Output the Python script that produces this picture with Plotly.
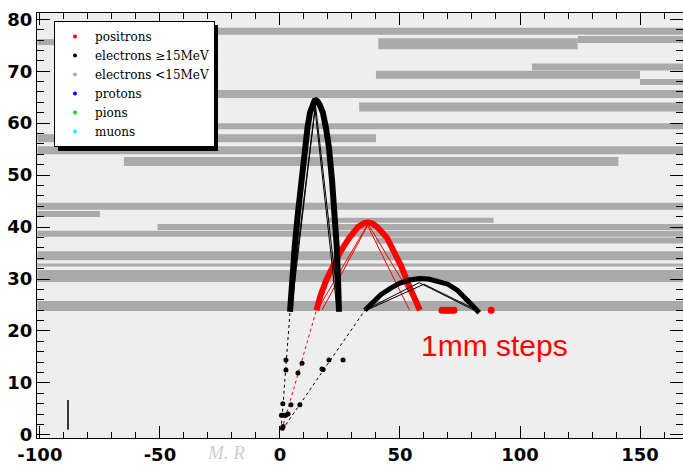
import plotly.graph_objects as go

# ---------------- data ----------------
# grey tracks of electrons < 15 MeV: level (cm), start x, end x
band_y = [77.7, 75.6, 75.3, 76.1, 70.8, 69.3, 67.9, 65.6, 63.1, 59.4, 57.1, 54.8,
          52.6, 44.0, 42.5, 41.3, 40.0, 38.7, 37.4, 34.5, 32.7, 30.6, 24.8]
band_x0 = [-28, -101, 41, 124, 105, 40, 150, -28, 33, -28, -101, -101,
           -65, -101, -101, 20, -51, -101, 40, -101, -101, -101, -101]
band_x1 = [170, -92, 124, 170, 170, 150, 170, 170, 170, 170, 40, 170,
           141, 170, -75, 89, 170, 170, 170, 170, 170, 170, 170]
band_thick = [7, 6, 11, 7, 7, 8, 6, 8, 9, 6, 8, 8,
              9, 7, 6, 5, 6, 6, 6, 9, 3, 12, 10]

# electron >= 15 MeV, tall arc
e1_x = [4.2, 5.0, 6.2, 7.5, 8.9, 10.4, 11.5, 12.5, 13.5, 14.4, 15.0, 15.7, 16.6, 17.9, 19.2,
        20.4, 21.7, 22.9, 23.7, 24.2, 24.6]
e1_y = [23.7, 30.0, 36.5, 42.7, 49.0, 55.4, 59.2, 62.0, 63.6, 64.3, 64.4, 64.2, 63.5, 62.0,
        59.0, 55.4, 49.0, 42.7, 36.0, 30.0, 23.7]
e1c_x = [4.2, 14.8, 24.6, None, 4.8, 14.6, 23.8]
e1c_y = [23.7, 63.5, 23.7, None, 24.0, 62.8, 24.0]

# positron arc
p_x = [15.2, 17.0, 19.5, 22.5, 25.5, 29.0, 32.5, 35.0, 36.7, 38.5, 40.5, 44.5, 47.5, 50.5,
       53.5, 56.0, 58.3]
p_y = [24.0, 27.0, 30.0, 33.0, 35.5, 38.0, 40.0, 40.7, 40.9, 40.7, 40.0, 38.0, 35.5, 32.5,
       29.0, 26.0, 24.0]
pc_x = [15.5, 36.7, 58.3, None, 17.5, 36.5, 54.0]
pc_y = [24.0, 40.6, 24.0, None, 24.0, 40.3, 24.0]
p_blob_x = [67.5, 68.5, 69.5, 70.5, 71.5, 72.5, 88.0]
p_blob_y = [24.0, 24.0, 24.0, 24.0, 24.0, 24.0, 24.0]

# electron >= 15 MeV, low arc
e2_x = [35.4, 38.0, 42.0, 46.0, 50.0, 54.0, 58.0, 62.0, 66.0, 70.0, 74.0, 77.0,
        80.0, 83.0]
e2_y = [24.0, 25.3, 27.0, 28.2, 29.2, 29.8, 30.1, 30.0, 29.6, 29.0, 27.8, 26.5,
        25.0, 23.5]
e2c_x = [35.4, 58.0, 83.0, None, 36.0, 60.0, 82.0]
e2c_y = [24.0, 29.3, 23.5, None, 24.0, 29.0, 24.0]

# dotted paths from the vertex to the arcs
path1_x = [0.5, 4.2]
path1_y = [1.0, 23.7]
path2_x = [0.8, 15.2]
path2_y = [1.0, 24.0]
path3_x = [1.0, 35.4]
path3_y = [1.0, 24.0]

# step points near the vertex
dot_x = [1.0, 1.3, 0.6, 1.6, 2.4, 3.4, 1.2, 4.6, 8.3, 2.5, 2.5, 7.5, 9.2, 17.5, 18.0, 20.4, 26.3]
dot_y = [1.3, 1.6, 3.8, 3.8, 3.8, 4.0, 6.0, 5.8, 5.8, 12.5, 14.4, 11.9, 13.8, 12.7, 12.6, 14.4, 14.4]

# small vertical marker line
mark_x = [-88.3, -88.3]
mark_y = [1.0, 6.7]

legend_names = ["positrons", "electrons \u226515MeV", "electrons <15MeV", "protons", "pions", "muons"]
legend_colors = ["#ff0000", "#000000", "#aaaaaa", "#0000ff", "#00dd00", "#00ffff"]

x_ticks = [-100, -50, 0, 50, 100, 150]
y_ticks = [0, 10, 20, 30, 40, 50, 60, 70, 80]

# ---------------- figure ----------------
GREY = "#aaaaaa"
fig = go.Figure()

for y, a, b, w in zip(band_y, band_x0, band_x1, band_thick):
    fig.add_trace(go.Scatter(x=[a, b], y=[y, y], mode="lines",
                             line=dict(color=GREY, width=w),
                             showlegend=False, hoverinfo="skip"))

for px_, py_, col in [(path1_x, path1_y, "black"), (path2_x, path2_y, "red"), (path3_x, path3_y, "black")]:
    fig.add_trace(go.Scatter(x=px_, y=py_, mode="lines",
                             line=dict(color=col, width=1, dash="dot"),
                             showlegend=False, hoverinfo="skip"))

fig.add_trace(go.Scatter(x=dot_x, y=dot_y, mode="markers",
                         marker=dict(color="black", size=5),
                         showlegend=False, hoverinfo="skip"))

fig.add_trace(go.Scatter(x=p_x, y=p_y, mode="lines", line=dict(color="red", width=6),
                         showlegend=False, hoverinfo="skip"))
fig.add_trace(go.Scatter(x=pc_x, y=pc_y, mode="lines", line=dict(color="red", width=1),
                         showlegend=False, hoverinfo="skip"))
fig.add_trace(go.Scatter(x=p_blob_x, y=p_blob_y, mode="markers",
                         marker=dict(color="red", size=7), showlegend=False, hoverinfo="skip"))

fig.add_trace(go.Scatter(x=e1_x, y=e1_y, mode="lines", line=dict(color="black", width=6),
                         showlegend=False, hoverinfo="skip"))
fig.add_trace(go.Scatter(x=e1c_x, y=e1c_y, mode="lines", line=dict(color="black", width=1),
                         showlegend=False, hoverinfo="skip"))
fig.add_trace(go.Scatter(x=e2_x, y=e2_y, mode="lines", line=dict(color="black", width=5),
                         showlegend=False, hoverinfo="skip"))
fig.add_trace(go.Scatter(x=e2c_x, y=e2c_y, mode="lines", line=dict(color="black", width=1),
                         showlegend=False, hoverinfo="skip"))

fig.add_trace(go.Scatter(x=mark_x, y=mark_y, mode="lines", line=dict(color="#333333", width=2),
                         showlegend=False, hoverinfo="skip"))

for name, col in zip(legend_names, legend_colors):
    fig.add_trace(go.Scatter(x=[None], y=[None], mode="markers", name=name,
                             marker=dict(color=col, size=4)))

# legend position / shadow (decoration, pixels of the frame)
LEG_LEFT, LEG_TOP = 54, 21
fig.add_shape(type="rect", xref="paper", yref="paper",
              x0=(LEG_LEFT + 4 - 37) / 646, x1=(LEG_LEFT + 164 - 37) / 646,
              y0=(438 - (LEG_TOP + 130)) / 425, y1=(438 - (LEG_TOP + 4)) / 425,
              fillcolor="black", line=dict(width=0), layer="above")

fig.add_annotation(x=89.5, y=17.3, text="1mm steps", showarrow=False,
                   font=dict(family="Liberation Sans", size=30, color="red"))

fig.add_annotation(xref="paper", yref="paper", x=(205 - 37) / 646, y=(438 - 465) / 425,
                   text="<i>M. R</i>", showarrow=False, yanchor="bottom",
                   font=dict(family="Liberation Serif", size=19, color="#c8cfd6"))

axis_font = dict(family="DejaVu Sans", size=18, color="black", weight="bold")
fig.update_xaxes(range=[-101.2, 167.9], tickvals=x_ticks, ticktext=[str(v) for v in x_ticks],
                 ticks="inside", ticklen=12, tickcolor="black", tickwidth=1,
                 minor=dict(ticks="inside", ticklen=6, dtick=10, tick0=0, tickcolor="black"),
                 showline=True, linecolor="black", linewidth=1, mirror="allticks",
                 showgrid=False, zeroline=False, tickfont=axis_font, automargin=False)
fig.update_yaxes(range=[-0.6, 81.2], tickvals=y_ticks, ticktext=[str(v) for v in y_ticks],
                 ticks="inside", ticklen=13, tickcolor="black", tickwidth=1,
                 minor=dict(ticks="inside", ticklen=7, dtick=2, tick0=0, tickcolor="black"),
                 showline=True, linecolor="black", linewidth=1, mirror="allticks",
                 showgrid=False, zeroline=False, tickfont=axis_font, automargin=False)

fig.update_layout(
    width=683, height=465,
    margin=dict(l=37, r=0, t=13, b=27),
    plot_bgcolor="#eeeeee", paper_bgcolor="white",
    legend=dict(x=(LEG_LEFT - 37) / 646, y=(438 - LEG_TOP) / 425, xanchor="left", yanchor="top",
                bgcolor="white", bordercolor="black", borderwidth=1,
                font=dict(family="DejaVu Serif", size=12, color="black"),
                itemsizing="trace", tracegroupgap=0, entrywidth=112),
    showlegend=True,
)

fig.write_html("out.html", config={"displayModeBar": False},
               post_script="document.body.style.margin='0px';")
